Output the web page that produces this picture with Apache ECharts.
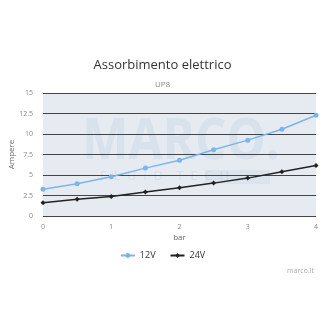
<!DOCTYPE html>
<html><head><meta charset="utf-8">
<script src="https://cdn.jsdelivr.net/npm/echarts@6/dist/echarts.min.js"></script>
<style>html,body{margin:0;padding:0;background:#fff}#c{width:325px;height:325px}</style>
</head><body><div id="c"></div>
<script>
const pressure = [0, 0.5, 1, 1.5, 2, 2.5, 3, 3.5, 4];
const amp12V = [3.25, 3.93, 4.78, 5.84, 6.81, 8.07, 9.25, 10.58, 12.29];
const amp24V = [1.62, 2.03, 2.39, 2.92, 3.45, 4.01, 4.62, 5.39, 6.16];
const seriesNames = ['12V', '24V'];
const font = '"Open Sans", "DejaVu Sans", sans-serif';
const chart = echarts.init(document.getElementById('c'), null, {renderer: 'canvas'});
chart.setOption({
  animation: false,
  backgroundColor: '#fff',
  title: [
    {text: 'Assorbimento elettrico', left: 'center', top: 54, textStyle: {fontFamily: font, fontSize: 13, fontWeight: 'normal', color: '#333'}},
    {text: 'UP8', left: 'center', top: 76, textStyle: {fontFamily: font, fontSize: 8, fontWeight: 'normal', color: '#888'}},
    {text: 'marco.it', right: 6, top: 262, textStyle: {fontFamily: font, fontSize: 7, fontWeight: 'normal', color: '#aaa'}}
  ],
  graphic: [
    {type: 'text', x: 82, y: 113, scaleX: 0.85, silent: true, z: 0, style: {text: 'MARCO.', font: 'bold 58px ' + font, fill: 'rgba(170,195,215,0.22)'}},
    {type: 'rect', x: 205, y: 170, silent: true, z: 0, shape: {width: 65, height: 14}, style: {fill: 'rgba(170,195,215,0.18)'}},
    {type: 'text', x: 100, y: 170, silent: true, z: 0, style: {text: 'F  L  U  I  D    T  E  C  H', font: '13px ' + font, fill: 'rgba(170,195,215,0.3)'}}
  ],
  legend: {
    data: seriesNames, left: 'center', top: 246, itemWidth: 14, itemHeight: 6, itemGap: 14,
    textStyle: {fontFamily: font, fontSize: 9, color: '#333'}
  },
  grid: {left: 43, right: 9, top: 93, bottom: 109, show: true, backgroundColor: '#e6ebf2', borderWidth: 0, containLabel: false, outerBoundsMode: 'none'},
  xAxis: {
    type: 'value', min: 0, max: 4, interval: 1, name: 'bar', nameLocation: 'middle', nameGap: 18, nameMoveOverlap: false,
    nameTextStyle: {fontFamily: font, fontSize: 8, color: '#666'},
    axisLine: {show: false}, axisTick: {show: false}, splitLine: {show: false},
    axisLabel: {fontFamily: font, fontSize: 7, color: '#888', margin: 7}
  },
  yAxis: {
    type: 'value', min: 0, max: 15, interval: 2.5, name: 'Ampere', nameLocation: 'middle', nameGap: 27, nameMoveOverlap: false,
    nameTextStyle: {fontFamily: font, fontSize: 8, color: '#666'},
    axisLine: {show: false}, axisTick: {show: false},
    splitLine: {show: true, lineStyle: {color: '#444', width: 1}},
    axisLabel: {fontFamily: font, fontSize: 7, color: '#888', margin: 10, showMinLabel: true}
  },
  series: [
    {name: seriesNames[0], type: 'line', data: pressure.map((p, i) => [p, amp12V[i]]), symbol: 'circle', symbolSize: 5,
     itemStyle: {color: '#7cb5ec'}, lineStyle: {color: '#7cb5ec', width: 1.5}},
    {name: seriesNames[1], type: 'line', data: pressure.map((p, i) => [p, amp24V[i]]), symbol: 'diamond', symbolSize: 5,
     itemStyle: {color: '#222'}, lineStyle: {color: '#222', width: 1.5}}
  ]
});
</script></body></html>
